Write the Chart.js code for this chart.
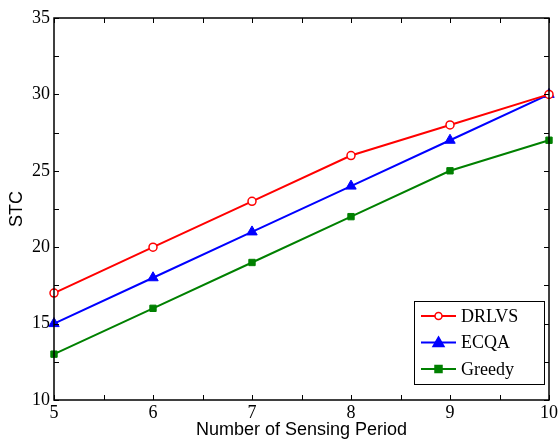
<!DOCTYPE html>
<html>
<head>
<meta charset="utf-8">
<script src="https://cdn.jsdelivr.net/npm/chart.js@4/dist/chart.umd.min.js"></script>
<style>
  html, body { margin: 0; padding: 0; background: #fff; }
  #wrap { width: 558px; height: 441px; }
</style>
</head>
<body>
<div id="wrap"><canvas id="stc_chart" width="558" height="441"></canvas></div>
<script>
const periods = [5, 6, 7, 8, 9, 10];
const drlvs = [17, 20, 23, 26, 28, 30];
const ecqa = [15, 18, 21, 24, 27, 30];
const greedy = [13, 16, 19, 22, 25, 27];

function toPoints(values){
    return values.map((v, i) => ({x: periods[i], y: v}));
}

// frame, inward ticks and the boxed legend
const framePlugin = {
    id: 'frame',
    afterDraw(chart){
        const ctx = chart.ctx;
        const a = chart.chartArea;
        const xs = chart.scales.x;
        const ys = chart.scales.y;
        ctx.save();
        ctx.strokeStyle = '#000';
        ctx.lineWidth = 1.5;
        ctx.strokeRect(a.left, a.top, a.right - a.left, a.bottom - a.top);
        ctx.lineWidth = 1;
        ctx.beginPath();
        for(let v = 5; v <= 10.001; v += 0.5){
            const px = Math.round(xs.getPixelForValue(v)) + 0.5;
            ctx.moveTo(px, a.bottom); ctx.lineTo(px, a.bottom - 5);
            ctx.moveTo(px, a.top); ctx.lineTo(px, a.top + 5);
        }
        for(let v = 10; v <= 35.001; v += 2.5){
            const py = Math.round(ys.getPixelForValue(v)) + 0.5;
            ctx.moveTo(a.left, py); ctx.lineTo(a.left + 5, py);
            ctx.moveTo(a.right, py); ctx.lineTo(a.right - 5, py);
        }
        ctx.stroke();

        // legend
        const bx = 414, by = 301, bw = 130, bh = 83;
        ctx.fillStyle = '#fff';
        ctx.fillRect(bx, by, bw, bh);
        ctx.lineWidth = 1;
        ctx.strokeStyle = '#000';
        ctx.strokeRect(bx + 0.5, by + 0.5, bw, bh);
        ctx.font = '18px "Liberation Serif"';
        ctx.textBaseline = 'middle';
        chart.data.datasets.forEach((ds, i) => {
            const y = 316 + i * 26.5;
            ctx.strokeStyle = ds.borderColor;
            ctx.lineWidth = 2;
            ctx.beginPath();
            ctx.moveTo(421, y); ctx.lineTo(456, y);
            ctx.stroke();
            drawMarker(ctx, ds, 438.5, y);
            ctx.fillStyle = '#000';
            ctx.fillText(ds.label, 461, y + 1);
        });
        ctx.restore();
    }
};

function drawMarker(ctx, ds, x, y){
    ctx.fillStyle = ds.pointBackgroundColor;
    ctx.strokeStyle = ds.borderColor;
    ctx.lineWidth = 1.5;
    ctx.beginPath();
    if(ds.pointStyle == 'circle'){
        ctx.arc(x, y, 3.5, 0, Math.PI * 2);
    } else if(ds.pointStyle == 'triangle'){
        ctx.moveTo(x, y - 5.5); ctx.lineTo(x + 5.5, y + 4); ctx.lineTo(x - 5.5, y + 4); ctx.closePath();
    } else {
        ctx.rect(x - 3.5, y - 3.5, 7, 7);
    }
    ctx.fill();
    ctx.stroke();
}

const tickFont = { family: 'Liberation Serif', size: 18, lineHeight: 1 };
const titleFont = { family: 'Liberation Sans', size: 18, lineHeight: 1 };

const ctx = document.getElementById('stc_chart').getContext('2d');
const stc_chart = new Chart(ctx, {
    type: 'line',
    data: {
        datasets: [{
            label: 'DRLVS',
            data: toPoints(drlvs),
            borderColor: 'rgb(255, 0, 0)',
            pointBackgroundColor: '#fff',
            pointStyle: 'circle',
            pointRadius: 4,
            pointBorderWidth: 1.5,
            borderWidth: 2
        }, {
            label: 'ECQA',
            data: toPoints(ecqa),
            borderColor: 'rgb(0, 0, 255)',
            pointBackgroundColor: 'rgb(0, 0, 255)',
            pointStyle: 'triangle',
            pointRadius: 6,
            pointBorderWidth: 1,
            borderWidth: 2
        }, {
            label: 'Greedy',
            data: toPoints(greedy),
            borderColor: 'rgb(0, 128, 0)',
            pointBackgroundColor: 'rgb(0, 128, 0)',
            pointStyle: 'rect',
            pointRadius: 4.5,
            pointBorderWidth: 1,
            borderWidth: 2
        }]
    },
    options: {
        responsive: false,
        animation: false,
        clip: false,
        layout: { padding: { top: 18, right: 0, left: 8, bottom: 2 } },
        plugins: {
            legend: { display: false },
            tooltip: { enabled: false }
        },
        scales: {
            x: {
                type: 'linear',
                min: 5,
                max: 10,
                grid: { display: false, drawTicks: false },
                border: { display: false },
                afterFit(scale){ scale.paddingRight = 9; },
                ticks: { stepSize: 1, color: '#000', padding: 4, font: tickFont },
                title: { display: true, text: 'Number of Sensing Period', color: '#000', padding: { top: -5, bottom: 0 }, font: titleFont }
            },
            y: {
                min: 10,
                max: 35,
                grid: { display: false, drawTicks: false },
                border: { display: false },
                ticks: { stepSize: 5, color: '#000', padding: 4, font: tickFont },
                title: { display: true, text: 'STC', color: '#000', padding: { top: 0, bottom: 2 }, font: titleFont }
            }
        }
    },
    plugins: [framePlugin]
});
</script>
</body>
</html>
